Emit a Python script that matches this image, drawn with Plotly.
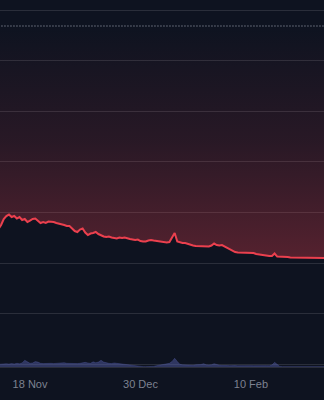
import pandas as pd
import plotly.graph_objects as go

# ---- data ----
start_date = "2024-11-06"
price = [
    10.672, 10.751, 10.870, 10.929, 10.958, 10.909, 10.929, 10.879, 10.909, 10.850,
    10.870, 10.810, 10.840, 10.870, 10.879, 10.840, 10.791, 10.810, 10.791, 10.820,
    10.820, 10.810, 10.791, 10.781, 10.761, 10.751, 10.731, 10.731, 10.682, 10.632,
    10.613, 10.662, 10.682, 10.603, 10.553, 10.583, 10.593, 10.613, 10.573, 10.543,
    10.524, 10.514, 10.524, 10.504, 10.494, 10.484, 10.504, 10.494, 10.504, 10.484,
    10.474, 10.464, 10.455, 10.464, 10.435, 10.425, 10.425, 10.445, 10.455, 10.445,
    10.435, 10.425, 10.415, 10.405, 10.405, 10.415, 10.494, 10.593, 10.425, 10.405,
    10.395, 10.395, 10.375, 10.356, 10.346, 10.336, 10.336, 10.326, 10.326, 10.336,
    10.326, 10.346, 10.385, 10.356, 10.346, 10.356, 10.326, 10.296, 10.267, 10.237,
    10.217, 10.208, 10.208, 10.208, 10.198, 10.208, 10.208, 10.198, 10.178, 10.168,
    10.158, 10.148, 10.138, 10.138, 10.138, 10.188, 10.128, 10.128, 10.119, 10.119,
    10.119, 10.109, 10.109, 10.109, 10.109, 10.109, 10.109, 10.109, 10.109, 10.099,
    10.099, 10.099, 10.099, 10.099, 10.099,
]
volume = [
    0.22, 0.25, 0.22, 0.27, 0.24, 0.28, 0.25, 0.30, 0.27, 0.33,
    0.55, 0.45, 0.30, 0.33, 0.44, 0.40, 0.30, 0.28, 0.30, 0.27,
    0.30, 0.28, 0.30, 0.27, 0.30, 0.35, 0.30, 0.28, 0.30, 0.27,
    0.28, 0.30, 0.33, 0.38, 0.33, 0.30, 0.42, 0.35, 0.40, 0.55,
    0.40, 0.33, 0.30, 0.28, 0.33, 0.30, 0.27, 0.25, 0.22, 0.20,
    0.16, 0.14, 0.10, 0.03, 0.03, 0.03, 0.03, 0.03, 0.03, 0.05,
    0.10, 0.14, 0.18, 0.20, 0.22, 0.30, 0.45, 0.71, 0.45, 0.22,
    0.18, 0.16, 0.20, 0.16, 0.14, 0.18, 0.16, 0.20, 0.27, 0.18,
    0.16, 0.18, 0.27, 0.18, 0.14, 0.12, 0.14, 0.12, 0.11, 0.14,
    0.12, 0.10, 0.11, 0.10, 0.11, 0.10, 0.11, 0.10, 0.11, 0.10,
    0.11, 0.10, 0.11, 0.10, 0.16, 0.38, 0.18, 0.05, 0.03, 0.03,
    0.03, 0.03, 0.03, 0.03, 0.03, 0.03, 0.03, 0.03, 0.03, 0.03,
    0.03, 0.03, 0.03, 0.03, 0.03,
]
baseline_value = 14.684
tick_dates = ["2024-11-18", "2024-12-30", "2025-02-10"]
tick_labels = ["18 Nov", "30 Dec", "10 Feb"]

dates = pd.date_range(start_date, periods=len(price), freq="D")

BG = "#0e1320"
GRID = "#2a2e3a"
RED = "#eb404e"

fig = go.Figure()

# baseline (dotted)
fig.add_trace(go.Scatter(
    x=[dates[0], dates[-1]], y=[baseline_value, baseline_value],
    mode="lines", line=dict(color="#aab0bd", width=1, dash="1px,2px"),
    hoverinfo="skip", showlegend=False,
))

# price line with gradient fill up to baseline
fig.add_trace(go.Scatter(
    x=dates, y=price, mode="lines",
    line=dict(color=RED, width=2),
    fill="tonexty",
    fillgradient=dict(
        type="vertical",
        start=min(price), stop=baseline_value,
        colorscale=[[0, "rgba(235,64,78,0.32)"], [0.5, "rgba(235,64,78,0.12)"], [1, "rgba(235,64,78,0.0)"]],
    ),
    showlegend=False,
))

# volume area
fig.add_trace(go.Scatter(
    x=dates, y=volume, mode="lines", yaxis="y2",
    line=dict(color="rgba(80,90,160,0.6)", width=0.6),
    fill="tozeroy", fillcolor="rgba(80,90,160,0.5)",
    showlegend=False,
))

fig.update_layout(
    width=324, height=400,
    margin=dict(l=0, r=0, t=0, b=33),
    paper_bgcolor=BG, plot_bgcolor=BG,
    xaxis=dict(
        type="date",
        range=["2024-11-06 14:00", "2025-03-09 19:00"],
        tickvals=tick_dates, ticktext=tick_labels,
        showgrid=False, zeroline=False,
        showline=True, linecolor=GRID, linewidth=1,
        ticks="", ticklabelstandoff=7,
        tickfont=dict(family="Liberation Sans, Arial, sans-serif", size=11, color="#7d8291"),
    ),
    yaxis=dict(
        range=[7.945, 15.198], dtick=1, tick0=0,
        showgrid=True, gridcolor=GRID, gridwidth=1,
        zeroline=False, showticklabels=False, ticks="",
    ),
    yaxis2=dict(
        overlaying="y", range=[0, 30], showgrid=False,
        showticklabels=False, zeroline=False, ticks="",
    ),
    showlegend=False,
)

fig.write_html("out.html")
